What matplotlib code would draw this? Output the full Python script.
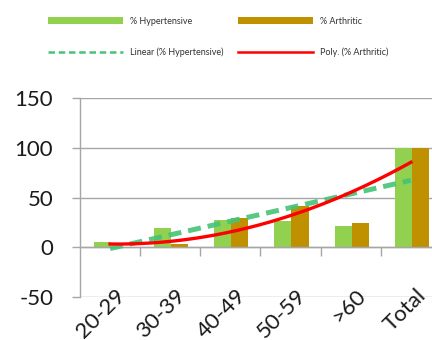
import numpy as np
import matplotlib
matplotlib.use("Agg")
import matplotlib.pyplot as plt
from matplotlib.lines import Line2D
from matplotlib.patches import Patch
import matplotlib.transforms as mtransforms

categories = ["20-29", "30-39", "40-49", "50-59", ">60", "Total"]
hypertensive = [5, 19, 27, 26, 21, 100]
arthritic = [0, 3, 29, 41, 24, 100]
yticks = [-50, 0, 50, 100, 150]

GREEN = "#92D050"
GOLD = "#BF9000"
DASH = "#45C478"
RED = "#FF0000"
GRID = "#A6A6A6"

plt.rcParams['font.family'] = ['Lato', 'DejaVu Sans']
plt.rcParams['axes.unicode_minus'] = False

fig = plt.figure(figsize=(4.32, 3.40), dpi=100, facecolor="white")
W, H = 432, 340
ax = fig.add_axes([80 / W, (H - 297) / H, (441 - 80) / W, (297 - 98) / H])
ax.set_facecolor("white")

x = np.arange(len(categories))
bw = 0.285
ax.bar(x + 0.015 - bw / 2, hypertensive, width=bw, color=GREEN, zorder=2)
ax.bar(x + 0.015 + bw / 2, arthritic, width=bw, color=GOLD, zorder=2)

# trendlines (fits of the series, as in the spreadsheet)
xs = x + 1
lin = np.polyfit(xs, hypertensive, 1)
poly = np.polyfit(xs, arthritic, 2)
xf = np.linspace(1, len(categories), 200)
ax.plot(xf - 1, np.polyval(lin, xf), color=DASH, lw=3.6, dashes=(2.6, 1.4),
        alpha=0.9, zorder=3)
ax.plot(xf - 1, np.polyval(poly, xf), color=RED, lw=2.4, zorder=4)

ax.set_xlim(-0.5, len(categories) - 0.5)
ax.set_ylim(-50, 150)
ax.set_yticks(yticks)
ax.yaxis.grid(True, color=GRID, lw=1.0, zorder=0)
ax.set_axisbelow(True)

for s in ["top", "right"]:
    ax.spines[s].set_visible(False)
ax.spines["left"].set_color(GRID)
ax.spines["left"].set_linewidth(1.0)
ax.spines["bottom"].set_position(("data", 0))
ax.spines["bottom"].set_color(GRID)
ax.spines["bottom"].set_linewidth(1.0)

ax.set_xticks(np.arange(len(categories)) + 0.5)
ax.set_xticklabels([])
ax.tick_params(axis="x", direction="out", length=6.5, width=1.0, color=GRID)
ax.tick_params(axis="y", direction="out", length=5.8, width=1.0, color=GRID,
               pad=13.5, labelsize=16, labelcolor="#1a1a1a")

trans = mtransforms.blended_transform_factory(ax.transData, ax.transAxes)
off = mtransforms.ScaledTranslation(5 / 100, 12 / 100, fig.dpi_scale_trans)
for i, lab in enumerate(categories):
    ax.text(i, 0, lab, transform=trans + off, rotation=45, rotation_mode="anchor",
            ha="right", va="top", fontsize=16, color="#1a1a1a")

handles = [
    Patch(facecolor=GREEN, edgecolor="none"),
    Line2D([], [], color=DASH, lw=1.8, dashes=(2.6, 1.5)),
    Patch(facecolor=GOLD, edgecolor="none"),
    Line2D([], [], color=RED, lw=1.8),
]
labels = ["% Hypertensive", "Linear (% Hypertensive)", "% Arthritic", "Poly. (% Arthritic)"]
fig.legend(handles, labels, ncol=2, loc="upper left",
           bbox_to_anchor=(48 / W, 1 - 17 / H), frameon=False, fontsize=6.5,
           handlelength=8.3, handleheight=0.85, handletextpad=0.8,
           columnspacing=1.6, labelspacing=2.4, borderpad=0, borderaxespad=0,
           labelcolor="#333333")

fig.savefig("out.png", dpi=100, facecolor=fig.get_facecolor())
